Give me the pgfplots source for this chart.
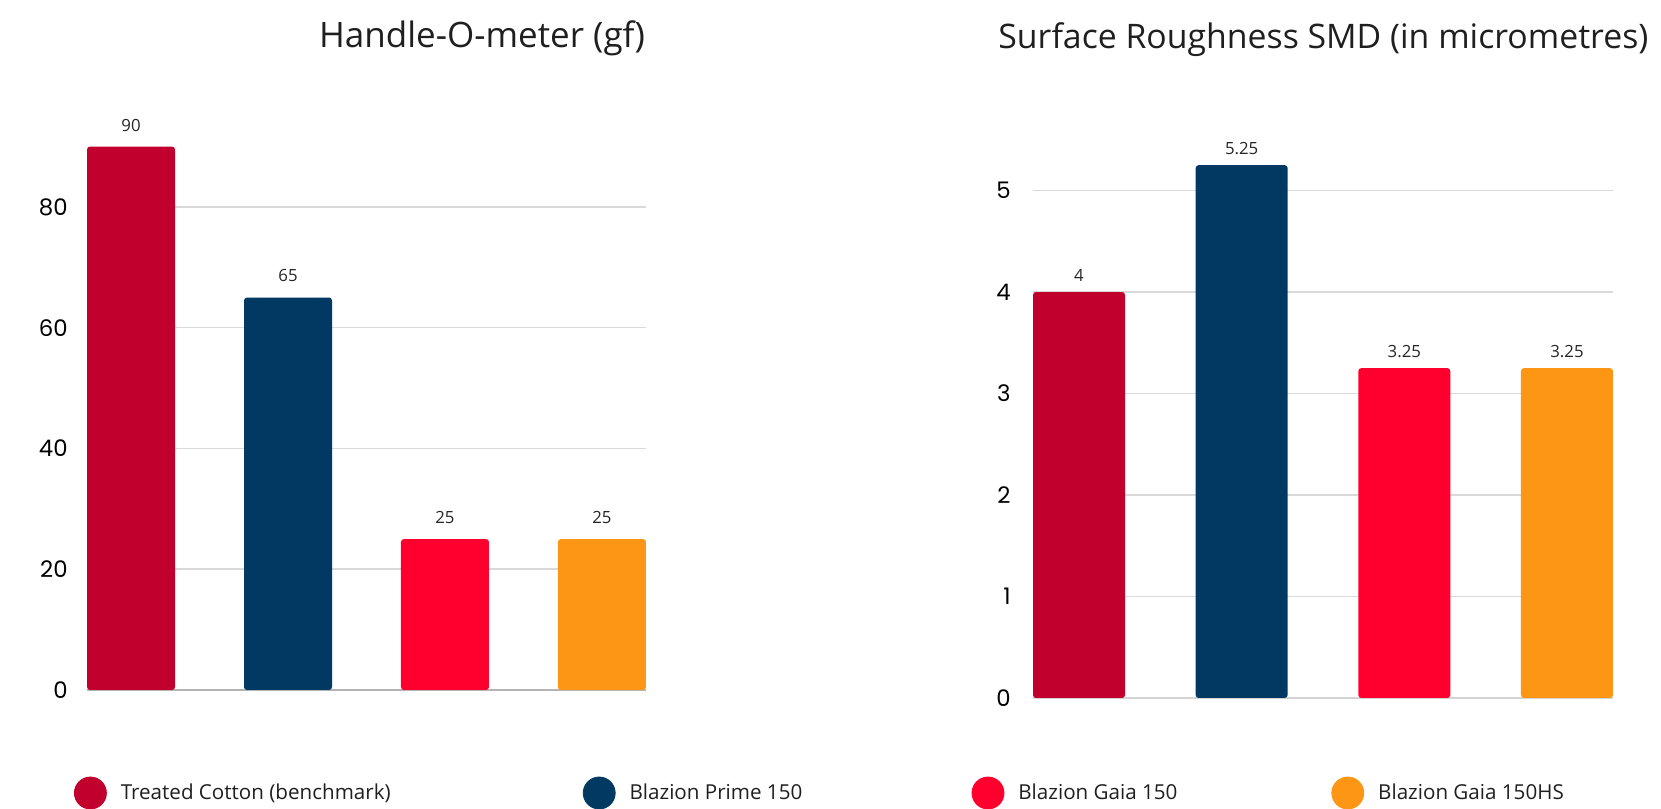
\documentclass[border=0pt]{standalone}
\usepackage{pgfplots}
\pgfplotsset{compat=1.18}
\usepackage{fontspec}
\setmainfont{Open Sans}
\newfontfamily\tickfont{Poppins}
\definecolor{cA}{HTML}{C1002E}
\definecolor{cB}{HTML}{003A62}
\definecolor{cC}{HTML}{FF002E}
\definecolor{cD}{HTML}{FC9614}
\definecolor{gridc}{HTML}{D9D9D9}
\definecolor{baseL}{HTML}{B4B4B4}
\definecolor{baseR}{HTML}{D4D4D4}
\pgfplotsset{
  mybars/.style={
    scale only axis,
    axis line style={draw=none},
    major tick style={draw=none},
    minor tick style={draw=none},
    xtick=\empty,
    ymajorgrids,
    grid style={draw=gridc, line width=0.75pt},
    /pgf/number format/assume math mode=true,
    yticklabel style={font=\tickfont\fontsize{11.4}{12}\selectfont, inner sep=0pt, anchor=east},
    clip=false,
  },
}
\begin{document}
\begin{tikzpicture}
\useasboundingbox (0,0) rectangle (830.5pt,404.5pt);
% ---------------- left chart ----------------
\begin{axis}[
  mybars,
  at={(43.5pt,59.5pt)}, anchor=south west,
  width=279.5pt, height=301.9pt,
  xmin=-0.2806, xmax=3.2806, ymin=0, ymax=100,
  ytick={20,40,60,80},
  extra y ticks={0},
  extra y tick style={grid style={draw=baseL, line width=0.9pt}},
  yticklabel style={xshift=-9.5pt},
  title={Handle-O-meter (gf)},
  title style={at={(0.7066,1)}, anchor=base, yshift=13.1pt, inner sep=0pt, font=\fontsize{17.5}{20}\selectfont, text=black!88},
  legend style={draw=none, fill=none, at={(-0.02326,-0.1706)}, anchor=west,
    inner sep=0pt, outer sep=0pt,
    font=\fontsize{10.3}{12}\selectfont, text=black!88,
    nodes={inner sep=0pt},
    /tikz/every odd column/.append style={column sep=7pt}},
  legend columns=4,
  legend cell align=left,
]
\addplot[ybar, bar width=44pt, bar shift=0pt, fill=cA, draw=none, rounded corners=1.5pt, forget plot,
  nodes near coords, point meta=explicit symbolic,
  every node near coord/.append style={font=\fontsize{8.4}{10}\selectfont, text=black!85, inner sep=0pt, anchor=south, yshift=7.5pt}]
  coordinates {(0,90) [90]};
\addplot[ybar, bar width=44pt, bar shift=0pt, fill=cB, draw=none, rounded corners=1.5pt, forget plot,
  nodes near coords, point meta=explicit symbolic,
  every node near coord/.append style={font=\fontsize{8.4}{10}\selectfont, text=black!85, inner sep=0pt, anchor=south, yshift=7.5pt}]
  coordinates {(1,65) [65]};
\addplot[ybar, bar width=44pt, bar shift=0pt, fill=cC, draw=none, rounded corners=1.5pt, forget plot,
  nodes near coords, point meta=explicit symbolic,
  every node near coord/.append style={font=\fontsize{8.4}{10}\selectfont, text=black!85, inner sep=0pt, anchor=south, yshift=7.5pt}]
  coordinates {(2,25) [25]};
\addplot[ybar, bar width=44pt, bar shift=0pt, fill=cD, draw=none, rounded corners=1.5pt, forget plot,
  nodes near coords, point meta=explicit symbolic,
  every node near coord/.append style={font=\fontsize{8.4}{10}\selectfont, text=black!85, inner sep=0pt, anchor=south, yshift=7.5pt}]
  coordinates {(3,25) [25]};
\addlegendimage{legend image code/.code={\fill[cA] (0pt,0pt) circle (8pt);}}
\addlegendentry{\makebox[231pt][l]{Treated Cotton (benchmark)}}
\addlegendimage{legend image code/.code={\fill[cB] (0pt,0pt) circle (8pt);}}
\addlegendentry{\makebox[171pt][l]{Blazion Prime 150}}
\addlegendimage{legend image code/.code={\fill[cC] (0pt,0pt) circle (8pt);}}
\addlegendentry{\makebox[156.5pt][l]{Blazion Gaia 150}}
\addlegendimage{legend image code/.code={\fill[cD] (0pt,0pt) circle (8pt);}}
\addlegendentry{Blazion Gaia 150HS}
\end{axis}
% ---------------- right chart ----------------
\begin{axis}[
  mybars,
  at={(516.5pt,55.5pt)}, anchor=south west,
  width=290pt, height=304.5pt,
  xmin=-0.283, xmax=3.283, ymin=0, ymax=6,
  ytick={1,2,3,4,5},
  extra y ticks={0},
  extra y tick style={grid style={draw=baseR, line width=0.9pt}},
  yticklabel style={xshift=-11pt},
  title={Surface Roughness SMD (in micrometres)},
  title style={at={(-0.0603,1)}, anchor=base west, yshift=14.5pt, inner sep=0pt, font=\fontsize{16.9}{20}\selectfont, text=black!88},
]
\addplot[ybar, bar width=46pt, bar shift=0pt, fill=cA, draw=none, rounded corners=1.5pt,
  nodes near coords, point meta=explicit symbolic,
  every node near coord/.append style={font=\fontsize{8.4}{10}\selectfont, text=black!85, inner sep=0pt, anchor=south, yshift=5pt}]
  coordinates {(0,4) [4]};
\addplot[ybar, bar width=46pt, bar shift=0pt, fill=cB, draw=none, rounded corners=1.5pt,
  nodes near coords, point meta=explicit symbolic,
  every node near coord/.append style={font=\fontsize{8.4}{10}\selectfont, text=black!85, inner sep=0pt, anchor=south, yshift=5pt}]
  coordinates {(1,5.25) [5.25]};
\addplot[ybar, bar width=46pt, bar shift=0pt, fill=cC, draw=none, rounded corners=1.5pt,
  nodes near coords, point meta=explicit symbolic,
  every node near coord/.append style={font=\fontsize{8.4}{10}\selectfont, text=black!85, inner sep=0pt, anchor=south, yshift=5pt}]
  coordinates {(2,3.25) [3.25]};
\addplot[ybar, bar width=46pt, bar shift=0pt, fill=cD, draw=none, rounded corners=1.5pt,
  nodes near coords, point meta=explicit symbolic,
  every node near coord/.append style={font=\fontsize{8.4}{10}\selectfont, text=black!85, inner sep=0pt, anchor=south, yshift=5pt}]
  coordinates {(3,3.25) [3.25]};
\end{axis}
\end{tikzpicture}
\end{document}
